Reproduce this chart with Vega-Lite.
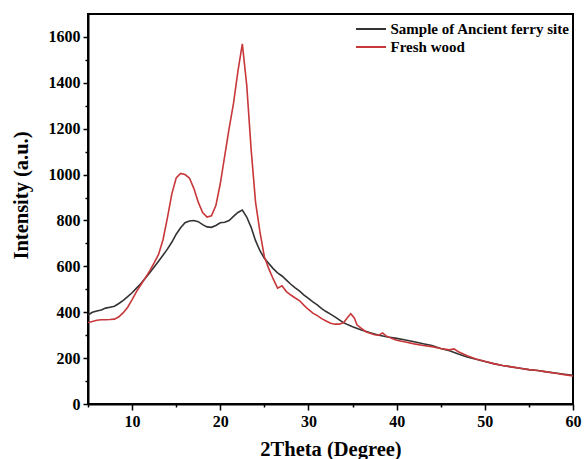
{
  "$schema": "https://vega.github.io/schema/vega-lite/v6.json",
  "autosize": "none",
  "width": 485,
  "height": 390,
  "padding": {"left": 88, "top": 14, "right": 11, "bottom": 55},
  "background": "white",
  "config": {
    "font": "Liberation Serif",
    "view": {"stroke": "black", "strokeWidth": 2},
    "axis": {"domainColor": "black", "domainWidth": 2, "tickColor": "black", "tickWidth": 1.5, "labelFont": "Liberation Serif", "labelFontWeight": "bold", "labelFontSize": 16, "labelColor": "black", "titleFont": "Liberation Serif", "titleFontWeight": "bold", "titleFontSize": 20.5, "titleColor": "black", "grid": false}
  },
  "data": {"values": [
    {"s":"Sample of Ancient ferry site","x":5,"y":388},{"s":"Sample of Ancient ferry site","x":5.5,"y":400},{"s":"Sample of Ancient ferry site","x":6,"y":405},{"s":"Sample of Ancient ferry site","x":6.5,"y":410},{"s":"Sample of Ancient ferry site","x":7,"y":418},{"s":"Sample of Ancient ferry site","x":7.5,"y":422},{"s":"Sample of Ancient ferry site","x":8,"y":426},{"s":"Sample of Ancient ferry site","x":8.5,"y":438},{"s":"Sample of Ancient ferry site","x":9,"y":452},{"s":"Sample of Ancient ferry site","x":9.5,"y":468},{"s":"Sample of Ancient ferry site","x":10,"y":485},{"s":"Sample of Ancient ferry site","x":10.5,"y":505},{"s":"Sample of Ancient ferry site","x":11,"y":525},{"s":"Sample of Ancient ferry site","x":11.5,"y":548},{"s":"Sample of Ancient ferry site","x":12,"y":572},{"s":"Sample of Ancient ferry site","x":12.5,"y":597},{"s":"Sample of Ancient ferry site","x":13,"y":622},{"s":"Sample of Ancient ferry site","x":13.5,"y":648},{"s":"Sample of Ancient ferry site","x":14,"y":675},{"s":"Sample of Ancient ferry site","x":14.5,"y":705},{"s":"Sample of Ancient ferry site","x":15,"y":740},{"s":"Sample of Ancient ferry site","x":15.5,"y":768},{"s":"Sample of Ancient ferry site","x":16,"y":790},{"s":"Sample of Ancient ferry site","x":16.5,"y":798},{"s":"Sample of Ancient ferry site","x":17,"y":800},{"s":"Sample of Ancient ferry site","x":17.5,"y":795},{"s":"Sample of Ancient ferry site","x":18,"y":782},{"s":"Sample of Ancient ferry site","x":18.5,"y":772},{"s":"Sample of Ancient ferry site","x":19,"y":770},{"s":"Sample of Ancient ferry site","x":19.5,"y":778},{"s":"Sample of Ancient ferry site","x":20,"y":790},{"s":"Sample of Ancient ferry site","x":20.5,"y":792},{"s":"Sample of Ancient ferry site","x":21,"y":800},{"s":"Sample of Ancient ferry site","x":21.5,"y":818},{"s":"Sample of Ancient ferry site","x":22,"y":835},{"s":"Sample of Ancient ferry site","x":22.5,"y":845},{"s":"Sample of Ancient ferry site","x":23,"y":815},{"s":"Sample of Ancient ferry site","x":23.5,"y":770},{"s":"Sample of Ancient ferry site","x":24,"y":712},{"s":"Sample of Ancient ferry site","x":24.5,"y":668},{"s":"Sample of Ancient ferry site","x":25,"y":635},{"s":"Sample of Ancient ferry site","x":25.5,"y":612},{"s":"Sample of Ancient ferry site","x":26,"y":590},{"s":"Sample of Ancient ferry site","x":26.5,"y":572},{"s":"Sample of Ancient ferry site","x":27,"y":558},{"s":"Sample of Ancient ferry site","x":27.5,"y":540},{"s":"Sample of Ancient ferry site","x":28,"y":522},{"s":"Sample of Ancient ferry site","x":28.5,"y":506},{"s":"Sample of Ancient ferry site","x":29,"y":492},{"s":"Sample of Ancient ferry site","x":29.5,"y":475},{"s":"Sample of Ancient ferry site","x":30,"y":460},{"s":"Sample of Ancient ferry site","x":30.5,"y":445},{"s":"Sample of Ancient ferry site","x":31,"y":432},{"s":"Sample of Ancient ferry site","x":31.5,"y":416},{"s":"Sample of Ancient ferry site","x":32,"y":403},{"s":"Sample of Ancient ferry site","x":32.5,"y":392},{"s":"Sample of Ancient ferry site","x":33,"y":380},{"s":"Sample of Ancient ferry site","x":33.5,"y":367},{"s":"Sample of Ancient ferry site","x":34,"y":354},{"s":"Sample of Ancient ferry site","x":34.5,"y":345},{"s":"Sample of Ancient ferry site","x":35,"y":337},{"s":"Sample of Ancient ferry site","x":36,"y":323},{"s":"Sample of Ancient ferry site","x":37,"y":311},{"s":"Sample of Ancient ferry site","x":38,"y":300},{"s":"Sample of Ancient ferry site","x":39,"y":292},{"s":"Sample of Ancient ferry site","x":40,"y":286},{"s":"Sample of Ancient ferry site","x":41,"y":279},{"s":"Sample of Ancient ferry site","x":42,"y":271},{"s":"Sample of Ancient ferry site","x":43,"y":263},{"s":"Sample of Ancient ferry site","x":44,"y":255},{"s":"Sample of Ancient ferry site","x":45,"y":242},{"s":"Sample of Ancient ferry site","x":46,"y":232},{"s":"Sample of Ancient ferry site","x":47,"y":218},{"s":"Sample of Ancient ferry site","x":48,"y":205},{"s":"Sample of Ancient ferry site","x":49,"y":195},{"s":"Sample of Ancient ferry site","x":50,"y":185},{"s":"Sample of Ancient ferry site","x":51,"y":176},{"s":"Sample of Ancient ferry site","x":52,"y":168},{"s":"Sample of Ancient ferry site","x":53,"y":162},{"s":"Sample of Ancient ferry site","x":54,"y":156},{"s":"Sample of Ancient ferry site","x":55,"y":150},{"s":"Sample of Ancient ferry site","x":56,"y":146},{"s":"Sample of Ancient ferry site","x":57,"y":140},{"s":"Sample of Ancient ferry site","x":58,"y":135},{"s":"Sample of Ancient ferry site","x":59,"y":130},{"s":"Sample of Ancient ferry site","x":60,"y":125},
    {"s":"Fresh wood","x":5,"y":355},{"s":"Fresh wood","x":5.5,"y":360},{"s":"Fresh wood","x":6,"y":365},{"s":"Fresh wood","x":6.5,"y":367},{"s":"Fresh wood","x":7,"y":367},{"s":"Fresh wood","x":7.5,"y":368},{"s":"Fresh wood","x":8,"y":370},{"s":"Fresh wood","x":8.5,"y":380},{"s":"Fresh wood","x":9,"y":398},{"s":"Fresh wood","x":9.5,"y":422},{"s":"Fresh wood","x":10,"y":455},{"s":"Fresh wood","x":10.5,"y":490},{"s":"Fresh wood","x":11,"y":520},{"s":"Fresh wood","x":11.5,"y":550},{"s":"Fresh wood","x":12,"y":580},{"s":"Fresh wood","x":12.5,"y":615},{"s":"Fresh wood","x":13,"y":652},{"s":"Fresh wood","x":13.5,"y":715},{"s":"Fresh wood","x":14,"y":810},{"s":"Fresh wood","x":14.5,"y":915},{"s":"Fresh wood","x":15,"y":985},{"s":"Fresh wood","x":15.5,"y":1005},{"s":"Fresh wood","x":16,"y":1000},{"s":"Fresh wood","x":16.5,"y":985},{"s":"Fresh wood","x":17,"y":940},{"s":"Fresh wood","x":17.5,"y":880},{"s":"Fresh wood","x":18,"y":835},{"s":"Fresh wood","x":18.5,"y":815},{"s":"Fresh wood","x":19,"y":820},{"s":"Fresh wood","x":19.5,"y":865},{"s":"Fresh wood","x":20,"y":960},{"s":"Fresh wood","x":20.5,"y":1080},{"s":"Fresh wood","x":21,"y":1200},{"s":"Fresh wood","x":21.5,"y":1310},{"s":"Fresh wood","x":22,"y":1450},{"s":"Fresh wood","x":22.5,"y":1570},{"s":"Fresh wood","x":23,"y":1390},{"s":"Fresh wood","x":23.5,"y":1110},{"s":"Fresh wood","x":24,"y":880},{"s":"Fresh wood","x":24.5,"y":750},{"s":"Fresh wood","x":25,"y":642},{"s":"Fresh wood","x":25.5,"y":590},{"s":"Fresh wood","x":26,"y":545},{"s":"Fresh wood","x":26.5,"y":505},{"s":"Fresh wood","x":27,"y":515},{"s":"Fresh wood","x":27.5,"y":490},{"s":"Fresh wood","x":28,"y":475},{"s":"Fresh wood","x":28.5,"y":462},{"s":"Fresh wood","x":29,"y":450},{"s":"Fresh wood","x":29.5,"y":430},{"s":"Fresh wood","x":30,"y":412},{"s":"Fresh wood","x":30.5,"y":396},{"s":"Fresh wood","x":31,"y":385},{"s":"Fresh wood","x":31.5,"y":372},{"s":"Fresh wood","x":32,"y":362},{"s":"Fresh wood","x":32.5,"y":352},{"s":"Fresh wood","x":33,"y":348},{"s":"Fresh wood","x":33.5,"y":348},{"s":"Fresh wood","x":34,"y":355},{"s":"Fresh wood","x":34.5,"y":380},{"s":"Fresh wood","x":34.8,"y":393},{"s":"Fresh wood","x":35.2,"y":375},{"s":"Fresh wood","x":35.5,"y":345},{"s":"Fresh wood","x":36,"y":330},{"s":"Fresh wood","x":36.5,"y":315},{"s":"Fresh wood","x":37,"y":308},{"s":"Fresh wood","x":37.5,"y":302},{"s":"Fresh wood","x":38,"y":300},{"s":"Fresh wood","x":38.4,"y":310},{"s":"Fresh wood","x":38.8,"y":297},{"s":"Fresh wood","x":39.5,"y":285},{"s":"Fresh wood","x":40,"y":278},{"s":"Fresh wood","x":41,"y":270},{"s":"Fresh wood","x":42,"y":262},{"s":"Fresh wood","x":43,"y":255},{"s":"Fresh wood","x":44,"y":250},{"s":"Fresh wood","x":45,"y":242},{"s":"Fresh wood","x":46,"y":236},{"s":"Fresh wood","x":46.5,"y":240},{"s":"Fresh wood","x":47,"y":228},{"s":"Fresh wood","x":48,"y":210},{"s":"Fresh wood","x":49,"y":196},{"s":"Fresh wood","x":50,"y":186},{"s":"Fresh wood","x":51,"y":176},{"s":"Fresh wood","x":52,"y":168},{"s":"Fresh wood","x":53,"y":162},{"s":"Fresh wood","x":54,"y":156},{"s":"Fresh wood","x":55,"y":150},{"s":"Fresh wood","x":56,"y":146},{"s":"Fresh wood","x":57,"y":140},{"s":"Fresh wood","x":58,"y":134},{"s":"Fresh wood","x":59,"y":128},{"s":"Fresh wood","x":60,"y":122}
  ]},
  "mark": {"type": "line", "strokeWidth": 1.6, "clip": true},
  "encoding": {
    "x": {"field": "x", "type": "quantitative", "scale": {"domain": [5, 60], "nice": false, "zero": false},
      "axis": {"title": "2Theta (Degree)", "values": [5,10,15,20,25,30,35,40,45,50,55,60], "labelExpr": "datum.value % 10 === 0 ? datum.label : ''", "tickSize": {"condition": {"test": "datum.value % 10 === 0", "value": 6}, "value": 3}, "labelPadding": 3, "titlePadding": 10, "labelFlush": false}},
    "y": {"field": "y", "type": "quantitative", "scale": {"domain": [0, 1700], "nice": false},
      "axis": {"title": "Intensity (a.u.)", "values": [0,100,200,300,400,500,600,700,800,900,1000,1100,1200,1300,1400,1500,1600], "labelExpr": "datum.value % 200 === 0 ? datum.label : ''", "format": "d", "tickSize": {"condition": {"test": "datum.value % 200 === 0", "value": 5}, "value": 3}, "labelPadding": 3, "titlePadding": 17, "titleY": 181}},
    "color": {"field": "s", "type": "nominal", "sort": ["Sample of Ancient ferry site", "Fresh wood"],
      "scale": {"domain": ["Sample of Ancient ferry site", "Fresh wood"], "range": ["#333333", "#c8373a"]},
      "legend": {"title": null, "orient": "none", "legendX": 274.5, "legendY": 6.5, "symbolType": "M-2,0H2", "symbolStrokeWidth": 2, "symbolSize": 225, "labelFont": "Liberation Serif", "labelFontWeight": "bold", "labelFontSize": 15, "labelColor": "black", "labelLimit": 400, "rowPadding": 1, "labelOffset": 11}}
  }
}
